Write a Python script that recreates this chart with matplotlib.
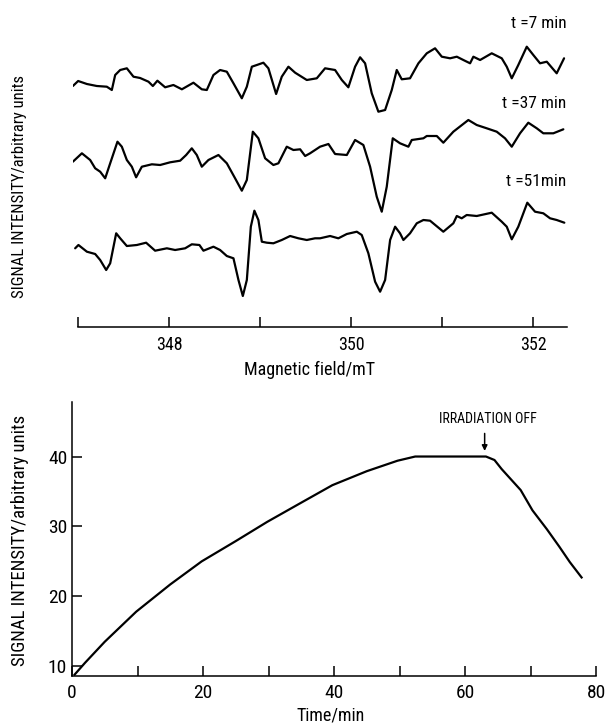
import matplotlib
matplotlib.use("Agg")
import matplotlib.pyplot as plt
import numpy as np

plt.rcParams['font.family'] = ['Roboto Condensed', 'DejaVu Sans']

# ESR spectra (field in mT, intensity in arbitrary units)
field_7 = [346.942, 347.0, 347.096, 347.205, 347.315, 347.370, 347.407, 347.462, 347.535, 347.608,
           347.681, 347.773, 347.821, 347.871, 347.956, 348.047, 348.140, 348.267, 348.359, 348.414,
           348.487, 348.560, 348.634, 348.707, 348.799, 348.854, 348.909, 348.964, 349.036, 349.091,
           349.176, 349.238, 349.311, 349.385, 349.513, 349.623, 349.714, 349.824, 349.898, 349.970,
           350.044, 350.099, 350.154, 350.227, 350.300, 350.374, 350.447, 350.502, 350.557, 350.648,
           350.740, 350.832, 350.923, 350.997, 351.088, 351.162, 351.234, 351.308, 351.344, 351.418,
           351.546, 351.656, 351.711, 351.766, 351.838, 351.931, 352.003, 352.077, 352.151, 352.260,
           352.341]
sig_7 = [0, 5, 2, 0, -0.7, -4, 11, 16, 17.7, 9.3,
         8, 4.3, 0, 5.3, -1.3, 1, -3.3, 3.3, -3.3, -4,
         11, 16, 14.3, 2.7, -12.3, -0.7, 19.3, 21, 23.3, 17.7,
         -8, 9.3, 19.3, 13.3, 6, 7.7, 17.7, 16, 6, -1.3,
         19.3, 28.7, 22.7, -7.3, -25.7, -24, -4, 16, 6.7, 7.7,
         22.7, 32.7, 37.7, 29.3, 27.7, 29.3, 26, 22.7, 29.3, 26,
         32.7, 27.7, 19.3, 7.7, 21, 39.3, 31, 22.7, 24.3, 12.7,
         27.7]

field_37 = [346.942, 347.041, 347.132, 347.187, 347.242, 347.297, 347.352, 347.432, 347.480, 347.535,
            347.590, 347.637, 347.700, 347.810, 347.901, 348.011, 348.121, 348.187, 348.249, 348.304,
            348.359, 348.432, 348.542, 348.634, 348.725, 348.799, 348.854, 348.920, 348.981, 349.055,
            349.146, 349.201, 349.293, 349.366, 349.440, 349.495, 349.549, 349.659, 349.751, 349.824,
            349.953, 350.044, 350.135, 350.209, 350.282, 350.337, 350.392, 350.458, 350.538, 350.630,
            350.667, 350.795, 350.832, 350.942, 351.014, 351.124, 351.289, 351.381, 351.491, 351.601,
            351.692, 351.766, 351.857, 351.948, 352.041, 352.113, 352.223, 352.333]
sig_37 = [-1.7, 6.7, 0, -8.3, -11.7, -18.3, -3.3, 18.3, 13.3, 0,
          -6.7, -17.3, -6.7, -4.3, -5, -2.3, -0.7, 5, 11.7, 5,
          -6.7, 0, 5, -3.3, -18.3, -30.7, -20, 28.3, 21.7, 1.7,
          -5, -3.3, 13.3, 10, 10.7, 4, 6.7, 13.3, 16, 6,
          5, 20, 15, -6.7, -36.7, -51.7, -26.7, 21.7, 16.7, 13.3,
          20, 21.7, 24, 24, 17.3, 28.3, 40, 35, 31.7, 28.3,
          21.7, 13.3, 26.7, 37.3, 31.7, 26.7, 26.7, 30.7]

field_51 = [346.967, 347.003, 347.096, 347.187, 347.242, 347.308, 347.352, 347.418, 347.462, 347.535,
            347.645, 347.747, 347.846, 347.975, 348.066, 348.176, 348.249, 348.333, 348.377, 348.487,
            348.560, 348.634, 348.707, 348.762, 348.810, 348.854, 348.898, 348.937, 348.981, 349.019,
            349.074, 349.146, 349.238, 349.330, 349.421, 349.513, 349.604, 349.659, 349.769, 349.860,
            349.953, 350.063, 350.117, 350.190, 350.264, 350.319, 350.374, 350.429, 350.484, 350.538,
            350.575, 350.648, 350.722, 350.795, 350.868, 351.014, 351.124, 351.162, 351.216, 351.271,
            351.381, 351.546, 351.656, 351.711, 351.766, 351.838, 351.937, 352.022, 352.113, 352.187,
            352.260, 352.344]
sig_51 = [-0.3, 3, -3.7, -6, -12, -22, -15.3, 14.7, 9.7, 2,
          3, 5.3, -2.7, -0.3, -2, -0.3, 3.7, 3, -2.7, 1.3,
          -2, -8, -10.3, -32, -48, -32, 21.3, 37.3, 28, 6.3,
          5.3, 4.7, 8, 12, 9.7, 8, 9.7, 9.7, 12, 9.7,
          14, 16.3, 13, -5.3, -33.7, -43.7, -32, 8, 21.3, 14.7,
          8, 14.7, 24.7, 28, 27.3, 16.3, 24.7, 32, 29.7, 33,
          32, 35.3, 26.3, 21.3, 8.7, 21.3, 45.3, 36.3, 34.7, 29.7,
          28, 25.3]

spectra = [(field_7, sig_7, "t =7 min"),
           (field_37, sig_37, "t =37 min"),
           (field_51, sig_51, "t =51min")]

# growth / decay of signal intensity
time_min = [0.4, 2, 5, 9.8, 15, 19.8, 25, 29.8, 35, 39.75, 45, 49.7, 52.4, 56, 60, 63.2,
            64.5, 65.6, 68.5, 70.3, 72.5, 74.4, 76, 77.8]
intensity = [8.8, 10.5, 13.5, 17.8, 21.7, 25.0, 27.9, 30.65, 33.4, 35.9, 37.9, 39.4, 40, 40, 40, 40,
             39.5, 38.2, 35.2, 32.3, 29.6, 27.1, 24.9, 22.7]

fig = plt.figure(figsize=(6.07, 7.26), dpi=100)

# ---- top panel: spectra ----
ax1 = fig.add_axes([72.7 / 607, 1 - 327.5 / 726, 494 / 607, 307.5 / 726])
baselines = [86, 160, 248]
label_y = [24, 103, 182]
for (f, s, lab), base, ly in zip(spectra, baselines, label_y):
    ax1.plot(f, np.array(s) - base, color='black', lw=1.6,
             solid_joinstyle='round', solid_capstyle='round')
    ax1.text(352.37, -ly, lab, ha='right', va='center', fontsize=12.5)

ax1.set_xlim(346.94, 352.37)
ax1.set_ylim(-327.5, -20)
for sp in ['top', 'right', 'left']:
    ax1.spines[sp].set_visible(False)
ax1.spines['bottom'].set_bounds(347.0, 352.37)
ax1.spines['bottom'].set_linewidth(1.1)
ax1.set_yticks([])
ax1.set_xticks([347, 348, 349, 350, 351, 352])
ax1.set_xticklabels(['', '348', '', '350', '', '352'])
ax1.tick_params(axis='x', direction='in', length=7, width=1.1, labelsize=13, pad=6)
fig.text(309 / 607, 1 - 370 / 726, 'Magnetic field/mT', ha='center', va='center', fontsize=13)
fig.text(20 / 607, 1 - 187 / 726, 'SIGNAL INTENSITY/arbitrary units', rotation=90,
         ha='center', va='center', fontsize=12)

# ---- bottom panel: intensity vs time ----
ax2 = fig.add_axes([72 / 607, 1 - 676 / 726, 524 / 607, 274 / 726])
ax2.plot(time_min, intensity, color='black', lw=1.6, solid_joinstyle='round')
ax2.set_xlim(0, 80)
ax2.set_ylim(8.6, 47.8)
ax2.spines['top'].set_visible(False)
ax2.spines['right'].set_visible(False)
for sp in ['bottom', 'left']:
    ax2.spines[sp].set_linewidth(1.1)
ax2.set_xticks(range(0, 81, 10))
ax2.set_xticklabels(['0', '', '20', '', '40', '', '60', '', '80'])
ax2.set_yticks([10, 20, 30, 40])
ax2.tick_params(direction='in', length=7, width=1.1, labelsize=14)
ax2.tick_params(axis='x', pad=6)
fig.text(331 / 607, 1 - 716 / 726, 'Time/min', ha='center', va='center', fontsize=13)
fig.text(20 / 607, 1 - 540 / 726, 'SIGNAL INTENSITY/arbitrary units', rotation=90,
         ha='center', va='center', fontsize=13.5)

ax2.annotate('', xy=(63, 40.4), xytext=(63, 43.7),
             arrowprops=dict(arrowstyle='-|>', color='black', lw=1.1, mutation_scale=8))
ax2.text(63.5, 45.4, 'IRRADIATION OFF', ha='center', va='center', fontsize=10)

fig.savefig('out.png', dpi=100)
